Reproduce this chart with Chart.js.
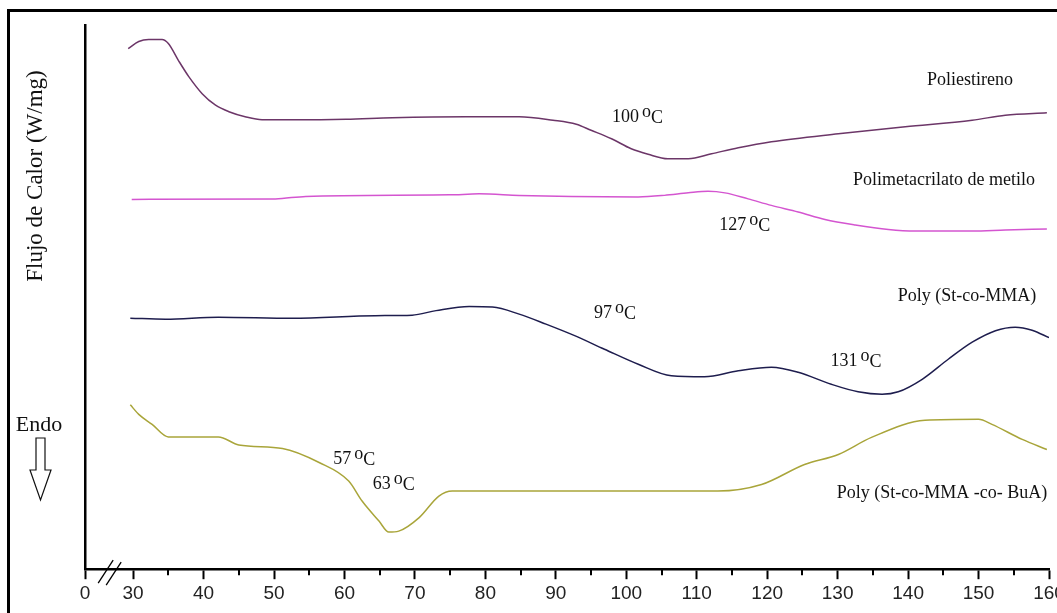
<!DOCTYPE html>
<html>
<head>
<meta charset="utf-8">
<script src="https://cdn.jsdelivr.net/npm/chart.js@4.4.1/dist/chart.umd.min.js"></script>
<style>
  html, body { margin: 0; padding: 0; background: #fff; }
  #wrap { width: 1057px; height: 613px; }
</style>
</head>
<body>
<div id="wrap"><canvas id="dsc" width="1057" height="613"></canvas></div>
<script>
// DSC thermograms: heat flow vs temperature (°C), curves shifted vertically for clarity
const seriesNames = ['Poliestireno', 'Polimetacrilato de metilo', 'Poly (St-co-MMA)', 'Poly (St-co-MMA -co- BuA)'];

const tempPS = [29.3, 30.8, 32.2, 34.1, 35.0, 36.4, 37.9, 39.8, 41.7, 43.6, 45.9, 48.3, 52.6, 60.2, 66.8, 77.2, 84.8, 89.6, 92.9, 95.0, 97.9, 100.7, 103.1, 105.9, 108.8, 112.1, 115.9, 120.6, 130.1, 139.6, 149.1, 153.8, 159.7];
const flowPS = [10.39, 10.53, 10.57, 10.57, 10.49, 10.16, 9.83, 9.49, 9.26, 9.13, 9.03, 8.97, 8.97, 8.98, 9.01, 9.03, 9.03, 8.96, 8.88, 8.76, 8.59, 8.39, 8.28, 8.19, 8.19, 8.29, 8.41, 8.53, 8.69, 8.83, 8.96, 9.06, 9.11];

const tempPMMA = [29.8, 50.2, 54.5, 74.9, 79.1, 84.8, 92.2, 101.7, 105.4, 108.8, 111.6, 114.0, 117.3, 120.6, 124.4, 128.2, 132.5, 137.2, 141.0, 149.1, 153.8, 159.7];
const flowPMMA = [7.38, 7.39, 7.44, 7.47, 7.49, 7.46, 7.44, 7.43, 7.46, 7.51, 7.54, 7.51, 7.39, 7.26, 7.13, 6.98, 6.87, 6.78, 6.75, 6.75, 6.77, 6.79];

const tempStMMA = [29.6, 34.6, 42.1, 52.6, 64.4, 69.6, 73.0, 77.7, 81.0, 84.8, 88.6, 92.5, 96.9, 101.7, 106.4, 111.1, 115.9, 120.6, 124.4, 129.1, 132.9, 136.3, 138.6, 142.0, 145.7, 149.1, 152.4, 155.2, 157.6, 160.0];
const flowStMMA = [5.01, 4.99, 5.03, 5.01, 5.06, 5.07, 5.16, 5.24, 5.23, 5.09, 4.89, 4.67, 4.39, 4.09, 3.86, 3.84, 3.96, 4.03, 3.93, 3.69, 3.54, 3.49, 3.54, 3.79, 4.19, 4.53, 4.76, 4.83, 4.77, 4.62];

const tempBuA = [29.6, 30.8, 32.7, 35.0, 42.1, 45.0, 51.2, 56.4, 60.6, 62.5, 64.9, 66.3, 67.7, 70.6, 73.4, 75.3, 92.5, 113.0, 119.2, 125.3, 130.1, 134.8, 142.4, 150.0, 151.9, 156.2, 159.7];
const flowBuA = [3.28, 3.09, 2.89, 2.64, 2.64, 2.48, 2.41, 2.13, 1.76, 1.36, 0.96, 0.74, 0.76, 1.03, 1.46, 1.56, 1.56, 1.56, 1.69, 2.09, 2.29, 2.63, 2.97, 2.99, 2.89, 2.59, 2.39];

// glass transition temperatures written next to the curves (°C)
const transitionTemps = [100, 127, 97, 131, 57, 63];

// x tick values: "0" sits just left of the axis break, then 30..160
const X_ZERO = 23.17;
const majorTicks = [30, 40, 50, 60, 70, 80, 90, 100, 110, 120, 130, 140, 150, 160];
const minorTicks = [35, 45, 55, 65, 75, 85, 95, 105, 115, 125, 135, 145, 155];

const colors = ['#6c3668', '#d455d0', '#1e1d4e', '#a9a53a'];

function zipXY(xs, ys) { return xs.map((x, i) => ({ x: x, y: ys[i] })); }

const seriesTemps = [tempPS, tempPMMA, tempStMMA, tempBuA];
const seriesFlows = [flowPS, flowPMMA, flowStMMA, flowBuA];

const datasets = seriesNames.map((name, i) => ({
  label: name,
  data: zipXY(seriesTemps[i], seriesFlows[i]),
  borderColor: colors[i],
  borderWidth: 1.5,
  pointRadius: 0,
  fill: false,
  cubicInterpolationMode: 'monotone'
}));

// anchors (data coordinates) for the curve names and transition labels
const nameAnchors = [[148.8, 9.76], [145.1, 7.76], [148.35, 5.44], [144.8, 1.52]];
const tempAnchors = [[101.6, 9.02], [116.8, 6.86], [98.4, 5.10], [132.6, 4.14], [61.4, 2.20], [67.0, 1.70]];

const SERIF = '"Liberation Serif", "Times New Roman", serif';

function drawTempLabel(ctx, cx, cy, value) {
  const numText = String(value);
  ctx.font = '18px ' + SERIF;
  const wNum = ctx.measureText(numText).width;
  const wSp = 3;
  const wO = ctx.measureText('o').width;
  const wC = ctx.measureText('C').width;
  const total = wNum + wSp + wO + wC;
  let x = cx - total / 2;
  ctx.textAlign = 'left';
  ctx.textBaseline = 'middle';
  ctx.fillStyle = '#111';
  ctx.fillText(numText, x, cy);
  x += wNum + wSp;
  ctx.fillText('o', x, cy - 5);
  x += wO;
  ctx.fillText('C', x, cy + 1);
}

const decorations = {
  id: 'decorations',
  beforeDraw(chart) {
    const ctx = chart.ctx;
    ctx.save();
    ctx.fillStyle = '#fff';
    ctx.fillRect(0, 0, chart.width, chart.height);
    // outer frame
    ctx.strokeStyle = '#000';
    ctx.lineWidth = 3;
    ctx.strokeRect(8.5, 10.5, 1200, 800);
    ctx.restore();
  },
  afterDraw(chart) {
    const ctx = chart.ctx;
    const xs = chart.scales.x, ys = chart.scales.y;
    const base = ys.bottom;
    ctx.save();

    // minor ticks every 5 °C
    ctx.strokeStyle = '#000';
    ctx.lineWidth = 2;
    minorTicks.forEach(v => {
      const px = Math.round(xs.getPixelForValue(v));
      ctx.beginPath();
      ctx.moveTo(px, base);
      ctx.lineTo(px, base + 6);
      ctx.stroke();
    });

    // axis break marks
    const bx = xs.getPixelForValue(26.6);
    ctx.lineWidth = 1.3;
    [[-4, 1], [4, 3]].forEach(([dx, dy]) => {
      ctx.beginPath();
      ctx.moveTo(bx + dx - 7, base + 13 + dy);
      ctx.lineTo(bx + dx + 8, base - 10 + dy);
      ctx.stroke();
    });

    // curve names
    ctx.fillStyle = '#111';
    ctx.font = '18px ' + SERIF;
    ctx.textAlign = 'center';
    ctx.textBaseline = 'middle';
    seriesNames.forEach((name, i) => {
      ctx.fillText(name, xs.getPixelForValue(nameAnchors[i][0]), ys.getPixelForValue(nameAnchors[i][1]));
    });

    // transition temperatures
    transitionTemps.forEach((t, i) => {
      drawTempLabel(ctx, xs.getPixelForValue(tempAnchors[i][0]), ys.getPixelForValue(tempAnchors[i][1]), t);
    });

    // y axis title
    ctx.save();
    ctx.translate(36, 176);
    ctx.rotate(-Math.PI / 2);
    ctx.font = '23px ' + SERIF;
    ctx.textAlign = 'center';
    ctx.textBaseline = 'middle';
    ctx.fillStyle = '#111';
    ctx.fillText('Flujo de Calor (W/mg)', 0, 0);
    ctx.restore();

    // "Endo" with hollow down arrow
    ctx.font = '22px ' + SERIF;
    ctx.textAlign = 'center';
    ctx.textBaseline = 'middle';
    ctx.fillText('Endo', 39, 425);
    ctx.beginPath();
    ctx.moveTo(36, 438);
    ctx.lineTo(45, 438);
    ctx.lineTo(45, 470);
    ctx.lineTo(51, 470);
    ctx.lineTo(40.5, 500);
    ctx.lineTo(30, 470);
    ctx.lineTo(36, 470);
    ctx.closePath();
    ctx.lineWidth = 1.2;
    ctx.strokeStyle = '#111';
    ctx.stroke();

    ctx.restore();
  }
};

new Chart(document.getElementById('dsc'), {
  type: 'line',
  data: { datasets: datasets },
  options: {
    responsive: false,
    animation: false,
    layout: { padding: { left: 85, top: 25, right: 8, bottom: 5 } },
    plugins: { legend: { display: false }, tooltip: { enabled: false } },
    scales: {
      x: {
        type: 'linear',
        min: X_ZERO,
        max: 160,
        afterBuildTicks(scale) {
          scale.ticks = [X_ZERO].concat(majorTicks).map(v => ({ value: v }));
        },
        afterFit(scale) { scale.paddingRight = 0; scale.paddingLeft = 0; },
        ticks: {
          autoSkip: false,
          maxRotation: 0,
          padding: 3,
          color: '#222',
          font: { family: '"Liberation Sans", Arial, sans-serif', size: 19 },
          callback: (v) => (v === X_ZERO ? '0' : String(v))
        },
        grid: { drawOnChartArea: false, drawTicks: true, tickLength: 10, tickWidth: 2, tickColor: '#000' },
        border: { display: true, color: '#000', width: 2.5 }
      },
      y: {
        min: 0,
        max: 10.86,
        ticks: { display: false },
        grid: { drawOnChartArea: false, drawTicks: false },
        border: { display: true, color: '#000', width: 2.5 }
      }
    }
  },
  plugins: [decorations]
});
</script>
</body>
</html>
